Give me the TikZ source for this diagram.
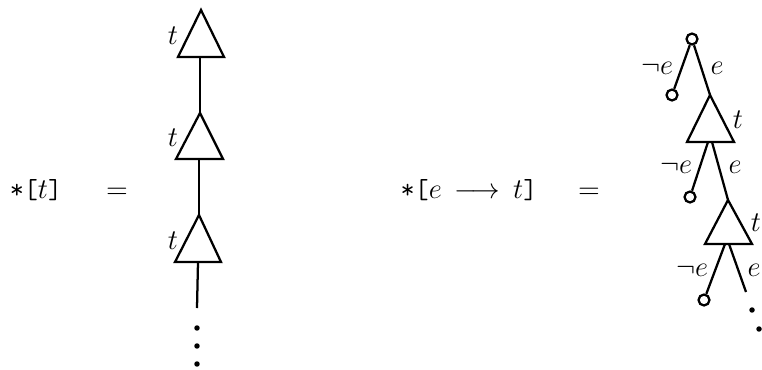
\documentclass[tikz,border=0pt]{standalone}
\begin{document}
\begin{tikzpicture}[x=0.42pt,y=-0.42pt,line width=0.95pt,
  every node/.style={font=\fontsize{11.5}{13}\selectfont},
  lbl/.style={inner sep=0pt},
  leaf/.style={circle,draw,inner sep=0pt,minimum size=4.6pt},
  dotmark/.style={circle,fill,inner sep=0pt,minimum size=2.3pt},
  tri/.style={draw,line join=miter}]
\useasboundingbox (0,0) rectangle (762,369);
% left formula
\node[lbl,anchor=base] (f1) at (36,198) {\texttt{*[}$t$\texttt{]}};
\node[lbl,anchor=base] (eq1) at (117,198) {$=$};
% left chain
\coordinate (a1) at (201,10);  \coordinate (b1l) at (178,57);  \coordinate (b1r) at (224,57);  \coordinate (s1) at (200,57);
\coordinate (a2) at (200,113); \coordinate (b2l) at (176,159); \coordinate (b2r) at (223,159); \coordinate (s2) at (199,159);
\coordinate (a3) at (199,215); \coordinate (b3l) at (175,262); \coordinate (b3r) at (221,262); \coordinate (s3) at (198,262);
\coordinate (e3) at (197,308);
\draw[tri] (a1) -- (b1l) -- (b1r) -- cycle;
\draw[tri] (a2) -- (b2l) -- (b2r) -- cycle;
\draw[tri] (a3) -- (b3l) -- (b3r) -- cycle;
\draw (s1) -- (a2);
\draw (s2) -- (a3);
\draw (s3) -- (e3);
\node[dotmark] (d1) at (197,328) {};
\node[dotmark] (d2) at (197,346) {};
\node[dotmark] (d3) at (197,364) {};
\node[lbl] (lt1) at (173,36) {$t$};
\node[lbl] (lt2) at (173,138) {$t$};
\node[lbl] (lt3) at (173,241) {$t$};
% right formula
\node[lbl,anchor=base] (f2) at (469,198) {\texttt{*[}$e\mkern3mu\longrightarrow\mkern3mu t$\texttt{]}};
\node[lbl,anchor=base] (eq2) at (589,198) {$=$};
% right tree
\node[leaf] (r) at (692,39) {};
\node[leaf] (l1) at (672,95) {};
\coordinate (t1) at (710,95); \coordinate (t1l) at (687,142); \coordinate (t1r) at (734,142);
\coordinate (u1a) at (708,142); \coordinate (u1b) at (712,142);
\node[leaf] (l2) at (690,197) {};
\coordinate (t2) at (728,200); \coordinate (t2l) at (705,244); \coordinate (t2r) at (752,244);
\coordinate (u2a) at (725,244); \coordinate (u2b) at (729,244);
\node[leaf] (l3) at (704,300) {};
\coordinate (e4) at (746,292);
\draw (r) -- (l1);
\draw (r) -- (t1);
\draw[tri] (t1) -- (t1l) -- (t1r) -- cycle;
\draw (u1a) -- (l2);
\draw (u1b) -- (t2);
\draw[tri] (t2) -- (t2l) -- (t2r) -- cycle;
\draw (u2a) -- (l3);
\draw (u2b) -- (e4);
\node[dotmark] (d4) at (752,310) {};
\node[dotmark] (d5) at (759,329) {};
\node[lbl] (n1) at (657,68) {$\neg e$};
\node[lbl] (p1) at (717,68) {$e$};
\node[lbl] (q1) at (738,120) {$t$};
\node[lbl] (n2) at (676,167) {$\neg e$};
\node[lbl] (p2) at (735,167) {$e$};
\node[lbl] (q2) at (756,223) {$t$};
\node[lbl] (n3) at (692,270) {$\neg e$};
\node[lbl] (p3) at (754,270) {$e$};
\end{tikzpicture}
\end{document}
